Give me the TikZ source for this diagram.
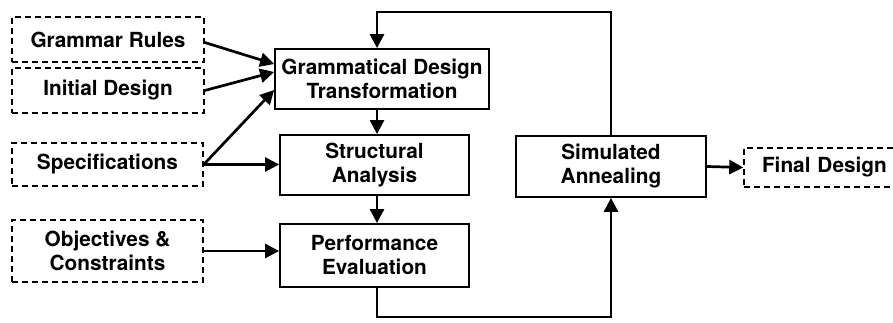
\documentclass[tikz,border=0pt]{standalone}
\usepackage{fontspec}
\setmainfont{TeX Gyre Heros}
\usetikzlibrary{arrows.meta}
\begin{document}
\begin{tikzpicture}[x=1pt,y=-1pt,
  every node/.style={font=\bfseries\fontsize{20.8}{24}\selectfont, align=center, inner sep=0pt},
  inbox/.style={draw, dashed, dash pattern=on 6pt off 4pt, line width=1.5pt},
  procbox/.style={draw, line width=1.8pt},
  arr/.style={line width=2.7pt, -{Triangle[length=14pt,width=14pt]}}]
\useasboundingbox (0,0) rectangle (893,323);
\node[inbox, minimum width=192pt, minimum height=45pt] (gr) at (108,39.5) {Grammar Rules};
\node[inbox, minimum width=192pt, minimum height=45pt] (id) at (108,90.5) {Initial Design};
\node[inbox, minimum width=191pt, minimum height=43pt] (sp) at (107.5,164.5) {Specifications};
\node[inbox, minimum width=191pt, minimum height=62pt] (oc) at (107.5,251) {Objectives \&\\Constraints};
\node[procbox, minimum width=214pt, minimum height=60pt] (gdt) at (382,79) {Grammatical Design\\Transformation};
\node[procbox, minimum width=189pt, minimum height=60pt] (str) at (374.5,165) {Structural\\Analysis};
\node[procbox, minimum width=189pt, minimum height=63pt] (pe) at (374.5,255.5) {Performance\\Evaluation};
\node[procbox, minimum width=190pt, minimum height=61pt] (sim) at (611,166.5) {Simulated\\Annealing};
\node[inbox, minimum width=160pt, minimum height=39pt, text width=160pt, align=left] (fd) at (824,167.5) {\hspace*{18pt}Final Design};
\coordinate (col) at (377,0);
\coordinate (top) at (0,12);
\coordinate (bot) at (0,317);
\draw[arr] ([yshift=-3pt]gr.east) -- ([yshift=15pt]gdt.west);
\draw[arr] (id.east) -- ([yshift=7pt]gdt.west);
\draw[arr] (sp.east) -- ([yshift=-11pt]gdt.west);
\draw[arr] (sp.east) -- (str.west |- sp.east);
\draw[arr] (oc.east) -- (pe.west |- oc.east);
\draw[arr] (gdt.south -| col) -- (str.north -| col);
\draw[arr] (str.south -| col) -- (pe.north -| col);
\draw[arr] (pe.south -| col) -- (col |- bot) -| (sim.south);
\draw[arr] (sim.north) |- (col |- top) -- (gdt.north -| col);
\draw[arr] (sim.east) -- (fd.west);
\end{tikzpicture}
\end{document}
